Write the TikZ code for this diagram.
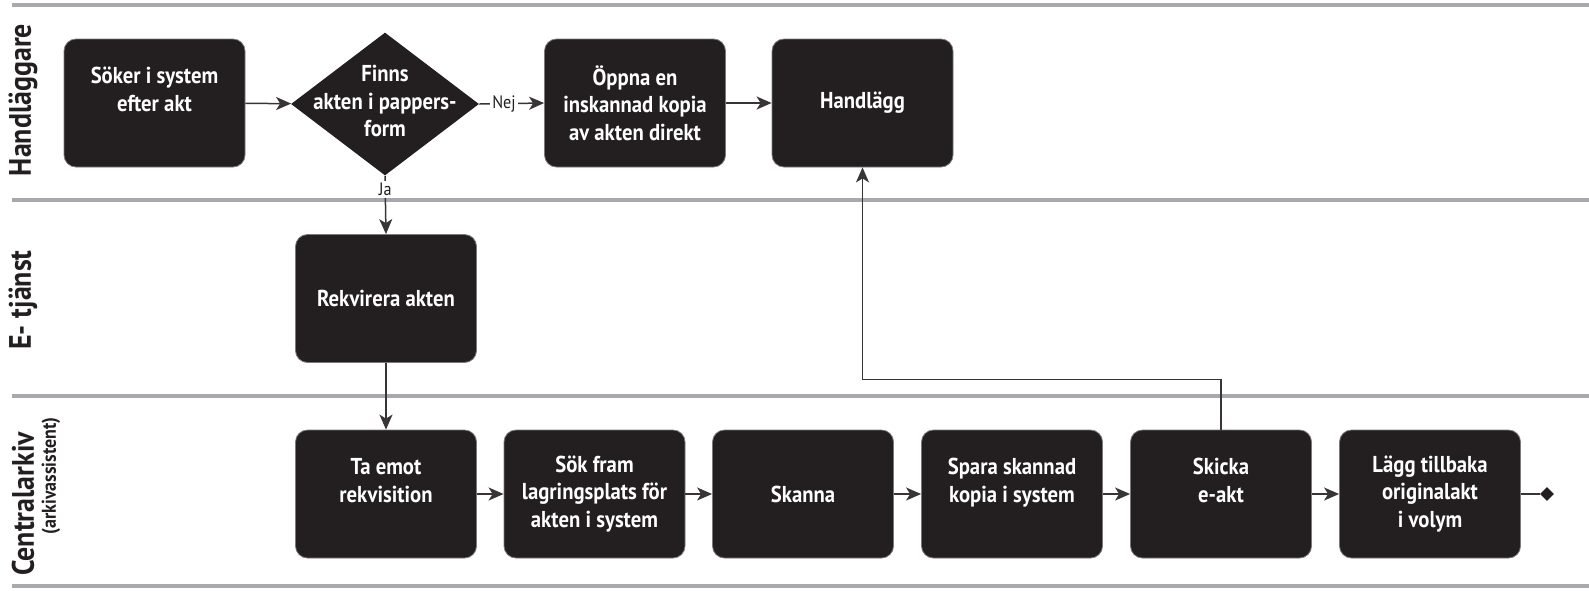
\documentclass[tikz,border=0pt]{standalone}
\usepackage{fontspec}
\setmainfont{PT Sans}[FakeStretch=0.9]
\usetikzlibrary{shapes.geometric,arrows.meta,calc}
\definecolor{boxblack}{HTML}{231F20}
\definecolor{lanegray}{HTML}{A7A9AC}
\tikzstyle{box} = [rectangle, rounded corners=6pt, minimum width=90.5pt,
minimum height=64pt, inner sep=0pt, align=center, fill=boxblack,
draw=boxblack!60, text=white, font=\bfseries\fontsize{11.5}{13.7}\selectfont]
\tikzstyle{beslut} = [diamond, minimum width=94pt, minimum height=71.5pt,
inner sep=0pt, fill=boxblack]
\tikzstyle{beslutstext} = [align=center, text=white,
font=\bfseries\fontsize{11.5}{13.7}\selectfont]
\tikzstyle{arrow} = [line width=0.75pt, draw=boxblack!90, ->]
\tikzstyle{lane} = [line width=1.6pt, draw=lanegray]
\tikzstyle{lanetext} = [rotate=90, text=boxblack,
font=\bfseries\fontsize{15.5}{17}\selectfont]
\tikzstyle{svar} = [fill=white, inner sep=1pt, text=boxblack,
font=\fontsize{9}{10}\selectfont]
\tikzset{>={Stealth[length=7.5pt,width=6.5pt,inset=2pt]}}

\begin{document}
\begin{tikzpicture}[x=0.5pt, y=-0.5pt]
    \useasboundingbox (0,0) rectangle (1589,590);
    % banor
    \draw[lane] (12,5) -- (1589,5);
    \draw[lane] (12,200) -- (1589,200);
    \draw[lane] (12,396) -- (1589,396);
    \draw[lane] (12,586) -- (1589,586);
    \node[lanetext] (handlaggare) at (23,100) {Handläggare};
    \node[lanetext] (etjanst) at (23,300) {E- tjänst};
    \node[lanetext] (centralarkiv) at (23,504) {Centralarkiv};
    \node[lanetext, font=\bfseries\fontsize{10}{11}\selectfont] (arkivassistent) at (51,476) {(arkivassistent)};

    % handläggare
    \node[box] (soker) at (154.5,103) {Söker i system\\efter akt\\~};
    \node[beslut] (finns) at (385,104) {};
    \node[beslutstext] (finnstext) at (385,101) {Finns\\akten i pappers-\\form};
    \node[box] (oppna) at (635,103) {Öppna en\\inskannad kopia\\av akten direkt};
    \node[box] (handlagg) at (862.5,103) {Handlägg};

    % e-tjänst
    \node[box] (rekvirera) at (386,298.5) {Rekvirera akten};

    % centralarkiv
    \node[box] (taemot) at (386,494) {Ta emot\\rekvisition\\~};
    \node[box] (sokfram) at (594.5,494) {Sök fram\\lagringsplats för\\akten i system};
    \node[box] (skanna) at (803,494) {Skanna};
    \node[box] (spara) at (1012,494) {Spara skannad\\kopia i system\\~};
    \node[box] (skicka) at (1221,494) {Skicka\\e-akt\\~};
    \node[box] (lagg) at (1430,494) {Lägg tillbaka\\originalakt\\i volym};
    \node[diamond, fill=boxblack, inner sep=0pt, minimum size=7pt] (slut) at (1547,494) {};

    % pilar
    \draw[arrow] (soker) -- (finns);
    \draw[arrow] (finns.east) -- node[svar, pos=0.38] {Nej} (oppna.west);
    \draw[arrow] (oppna) -- (handlagg);
    \draw[arrow] (finns.south) -- node[svar, pos=0.23] {Ja} (rekvirera.north);
    \draw[arrow] (rekvirera) -- (taemot);
    \draw[arrow] (taemot) -- (sokfram);
    \draw[arrow] (sokfram) -- (skanna);
    \draw[arrow] (skanna) -- (spara);
    \draw[arrow] (spara) -- (skicka);
    \draw[arrow] (skicka) -- (lagg);
    \draw[arrow, -] (lagg) -- (slut);
    \draw[arrow] (skicka.north) -- ++(0,-50) -| (handlagg.south);
\end{tikzpicture}
\end{document}
